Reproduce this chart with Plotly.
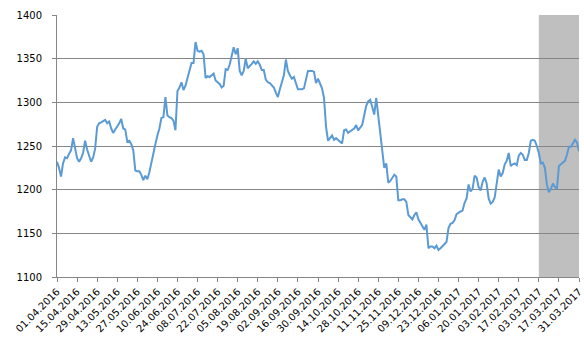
import plotly.graph_objects as go

# Daily values (business days 01.04.2016 .. 31.03.2017)
price = [
    1232, 1225, 1215, 1230, 1237, 1236, 1241, 1245, 1259, 1249,
    1236, 1232, 1236, 1242, 1256, 1246, 1239, 1232, 1237, 1247,
    1272, 1276, 1277, 1279, 1280, 1276, 1278, 1270, 1265, 1269,
    1272, 1276, 1281, 1270, 1269, 1255, 1256, 1252, 1245, 1222,
    1221, 1221, 1217, 1211, 1216, 1212, 1220, 1232, 1242, 1252,
    1262, 1270, 1282, 1283, 1306, 1285, 1283, 1282, 1279, 1268,
    1313, 1317, 1323, 1314, 1319, 1328, 1336, 1345, 1345, 1369,
    1359, 1358, 1359, 1355, 1328, 1330, 1329, 1331, 1333, 1325,
    1323, 1321, 1317, 1319, 1338, 1337, 1343, 1352, 1363, 1355,
    1362, 1336, 1331, 1336, 1350, 1339, 1341, 1344, 1347, 1344,
    1347, 1343, 1337, 1337, 1326, 1323, 1322, 1320, 1317, 1311,
    1306, 1315, 1324, 1331, 1349, 1336, 1331, 1327, 1329, 1323,
    1315, 1315, 1315, 1316, 1327, 1336, 1336, 1336, 1335, 1322,
    1327, 1322, 1316, 1305, 1272, 1256, 1259, 1262, 1257, 1259,
    1257, 1255, 1253, 1268, 1269, 1265, 1267, 1268, 1270, 1274,
    1268, 1271, 1274, 1285, 1296, 1301, 1303, 1295, 1286, 1305,
    1285, 1262, 1240, 1225, 1230, 1208, 1210, 1213, 1217, 1215,
    1188, 1188, 1189, 1189, 1186, 1171, 1169, 1166, 1171, 1174,
    1166, 1161, 1158, 1154, 1160, 1133, 1135, 1135, 1133, 1136,
    1131, 1133, 1135, 1138, 1140, 1156, 1161, 1162, 1165, 1172,
    1174, 1175, 1176, 1185, 1190, 1206, 1198, 1201, 1216, 1214,
    1203, 1199, 1209, 1214, 1207, 1190, 1184, 1186, 1191, 1205,
    1223, 1215, 1219, 1229, 1233, 1242, 1227, 1229, 1230, 1228,
    1239, 1242, 1240, 1234, 1234, 1242, 1256, 1257, 1256, 1250,
    1242, 1230, 1231, 1225, 1206, 1197, 1201, 1207, 1203, 1201,
    1227, 1229, 1231, 1233, 1240, 1249, 1249, 1254, 1257, 1254,
    1244,
]

tick_labels = [
    "01.04.2016", "15.04.2016", "29.04.2016", "13.05.2016", "27.05.2016",
    "10.06.2016", "24.06.2016", "08.07.2016", "22.07.2016", "05.08.2016",
    "19.08.2016", "02.09.2016", "16.09.2016", "30.09.2016", "14.10.2016",
    "28.10.2016", "11.11.2016", "25.11.2016", "09.12.2016", "23.12.2016",
    "06.01.2017", "20.01.2017", "03.02.2017", "17.02.2017", "03.03.2017",
    "17.03.2017", "31.03.2017",
]
tick_step = 10
highlight_start = 240  # 03.03.2017
highlight_end = 260    # 31.03.2017

x = list(range(len(price)))
tick_pos = [i * tick_step for i in range(len(tick_labels))]

fig = go.Figure()
fig.add_trace(go.Scatter(
    x=x, y=price, mode="lines",
    line=dict(color="#5B9BD5", width=2),
    hoverinfo="skip",
))

fig.add_shape(
    type="rect", xref="x", yref="paper",
    x0=highlight_start, x1=highlight_end, y0=0, y1=1,
    fillcolor="#BFBFBF", line=dict(width=0), layer="below",
)

grid = "#868686"
fig.update_layout(
    width=584, height=356,
    margin=dict(l=57, r=5, t=15, b=79, autoexpand=False),
    paper_bgcolor="white", plot_bgcolor="white",
    showlegend=False,
    font=dict(family="DejaVu Sans", size=10, color="#000000"),
)
fig.update_xaxes(
    range=[0, len(price) - 1], automargin=False,
    tickmode="array", tickvals=tick_pos, ticktext=tick_labels,
    tickangle=-45, ticks="outside", ticklen=4, tickcolor=grid,
    showline=True, linecolor=grid, linewidth=1,
    showgrid=False, zeroline=False,
)
fig.update_yaxes(
    range=[1100, 1400], dtick=50, automargin=False,
    ticks="outside", ticklen=4, tickcolor=grid,
    showline=True, linecolor=grid, linewidth=1,
    showgrid=True, gridcolor=grid, gridwidth=1,
    zeroline=False, ticklabelstandoff=8,
)

fig.write_html("out.html")
